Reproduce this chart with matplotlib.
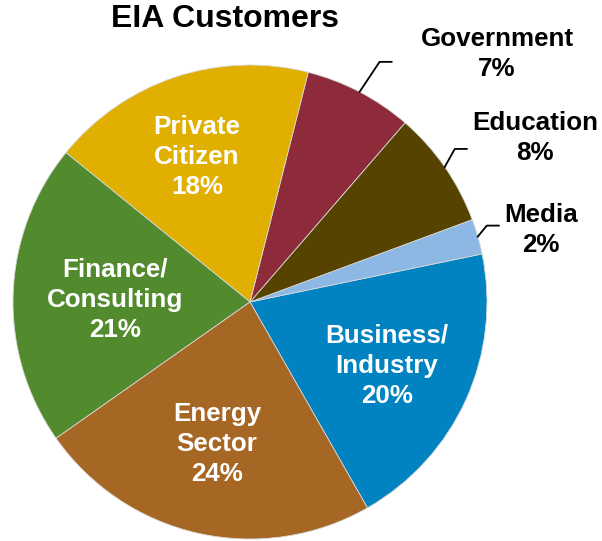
import numpy as np
import matplotlib
matplotlib.use("Agg")
import matplotlib.pyplot as plt

plt.rcParams.update({"font.family": ["Liberation Sans", "DejaVu Sans"], "font.weight": "bold"})

# slices, counterclockwise starting from Business/Industry
labels = ["Business/\nIndustry", "Media", "Education", "Government",
          "Private\nCitizen", "Finance/\nConsulting", "Energy\nSector"]
values = [20.0, 2.4, 8.0, 7.4, 18.1, 20.6, 23.5]
pct_labels = ["20%", "2%", "8%", "7%", "18%", "21%", "24%"]
colors = ["#0083C0", "#8DB8E3", "#574300", "#8E2B3A",
          "#E0AF00", "#528A2E", "#A66624"]

W, H = 602, 541
fig = plt.figure(figsize=(W / 100, H / 100), dpi=100)
ax = fig.add_axes([0, 0, 1, 1])
cx, cy, R = 250, H - 302, 237
wedges, _ = ax.pie(values, colors=colors, startangle=-60.3, counterclock=True,
                   center=(cx, cy), radius=R,
                   wedgeprops=dict(linewidth=0.6, edgecolor="#d8d8d8"))
ax.set_xlim(0, W)
ax.set_ylim(0, H)
ax.set_aspect("equal")
ax.axis("off")

# inside labels (white)
inside = {0: (387, 366), 4: (197, 157), 5: (115, 300), 6: (217, 444)}
for i, (x, y) in inside.items():
    ax.text(x, H - y, labels[i] + "\n" + pct_labels[i], color="white",
            fontsize=18.7, ha="center", va="center", linespacing=1.32)

# outside labels with leader lines
outside = {3: ((497, 54), (20, -30)), 2: ((535, 138), (10, -18)), 1: ((541, 230), (9, -11))}
for i, ((tx, ty), (ex, ey)) in outside.items():
    start = sum(values[:i]); mid = -60.3 + (start + values[i] / 2) / sum(values) * 360
    px = cx + R * np.cos(np.radians(mid)); py = cy + R * np.sin(np.radians(mid))
    qx, qy = px + ex, py - ey
    ax.plot([px, qx, qx + 12], [py, qy, qy], color="black", lw=1.3)
    ax.text(tx, H - ty, labels[i] + "\n" + pct_labels[i], color="black",
            fontsize=18.7, ha="center", va="center", linespacing=1.32)

ax.text(225, H - 19, "EIA Customers", fontsize=23, ha="center", va="center")

fig.savefig("out.png", dpi=100)
